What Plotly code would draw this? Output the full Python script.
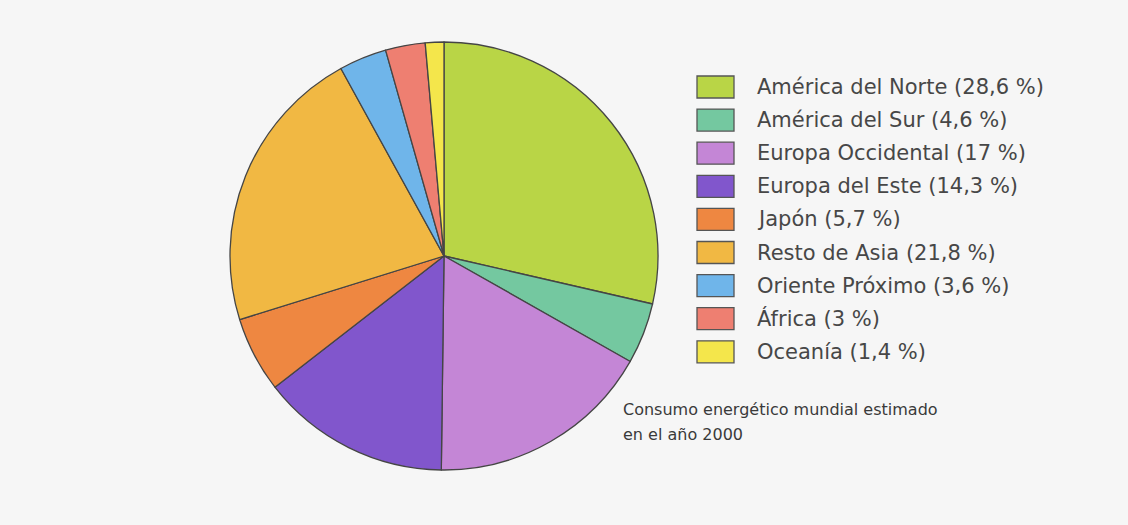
import plotly.graph_objects as go

regions = ["América del Norte", "América del Sur", "Europa Occidental", "Europa del Este",
           "Japón", "Resto de Asia", "Oriente Próximo", "África", "Oceanía"]
value_labels = ["28,6 %", "4,6 %", "17 %", "14,3 %", "5,7 %", "21,8 %", "3,6 %", "3 %", "1,4 %"]
shares = [28.6, 4.6, 17, 14.3, 5.7, 21.8, 3.6, 3, 1.4]
colors = ["#b9d546", "#74c8a0", "#c486d6", "#8156cc", "#ee8741", "#f1b843",
          "#6fb5ea", "#ee7f71", "#f4e64b"]
caption_lines = ["Consumo energético mundial estimado", "en el año 2000"]

W, H = 1128, 525
BG = "#f6f6f6"

fig = go.Figure()
fig.add_trace(go.Pie(
    labels=regions, values=shares, sort=False, direction="clockwise", rotation=0,
    marker=dict(colors=colors, line=dict(color="#454545", width=1.3)),
    textinfo="none", hoverinfo="label+percent", showlegend=False,
    domain=dict(x=[(444 - 214) / W, (444 + 214) / W], y=[1 - 470 / H, 1 - 42 / H]),
))

shapes = []
annotations = []
top_y = 87
step = 33.1
for i, (name, lab, col) in enumerate(zip(regions, value_labels, colors)):
    cy = top_y + i * step
    shapes.append(dict(type="rect", xref="paper", yref="paper",
                       x0=697 / W, x1=734 / W, y0=1 - (cy + 11) / H, y1=1 - (cy - 11) / H,
                       fillcolor=col, line=dict(color="#555555", width=1.3)))
    annotations.append(dict(xref="paper", yref="paper", x=755 / W, y=1 - cy / H,
                            xanchor="left", yanchor="middle", showarrow=False,
                            text=f"{name} ({lab})",
                            font=dict(family="DejaVu Sans", size=21, color="#474747")))

for j, line in enumerate(caption_lines):
    annotations.append(dict(xref="paper", yref="paper", x=621 / W, y=1 - (409 + 25 * j) / H,
                            xanchor="left", yanchor="middle", showarrow=False, align="left",
                            text=line,
                            font=dict(family="DejaVu Sans", size=16, color="#3a3a3a")))

fig.update_layout(
    width=W, height=H, margin=dict(l=0, r=0, t=0, b=0),
    paper_bgcolor=BG, plot_bgcolor=BG,
    shapes=shapes, annotations=annotations,
)
fig.write_html("out.html")
